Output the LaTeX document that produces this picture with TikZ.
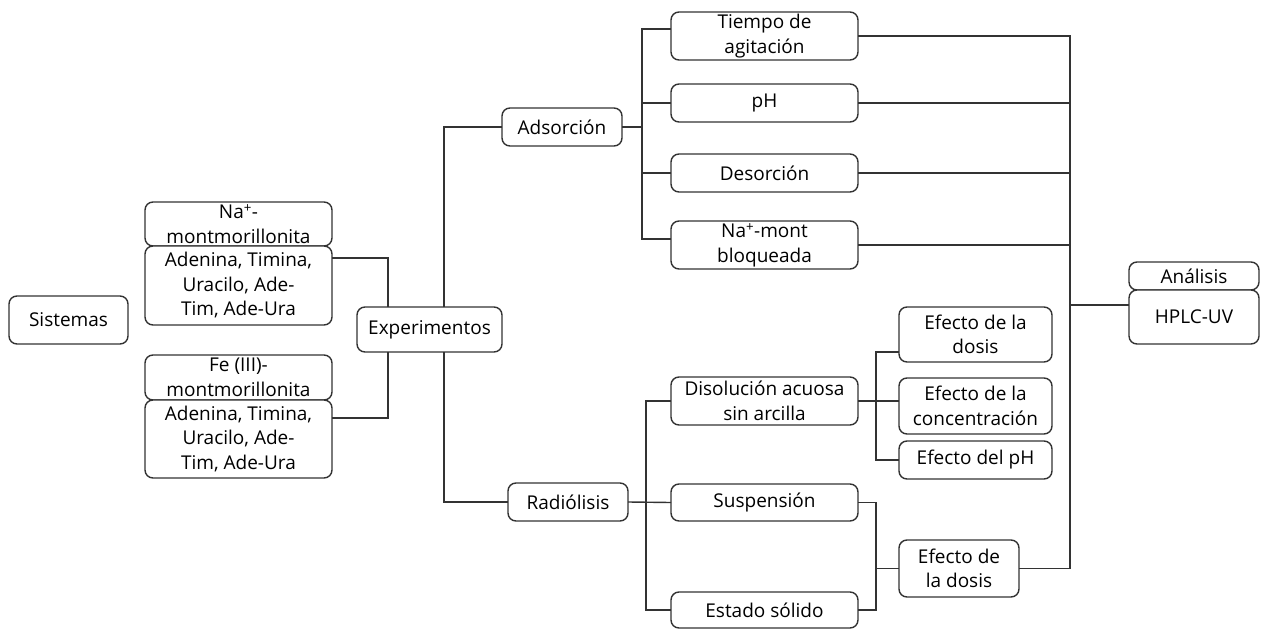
\documentclass[tikz,border=0pt]{standalone}
\usepackage{fontspec}
\setmainfont{Open Sans}
\usetikzlibrary{positioning}

\begin{document}
\begin{tikzpicture}[
  x=1pt, y=-1pt,
  every node/.style = {font=\fontsize{19}{24.5}\selectfont},
  block/.style = {draw=black!80, line width=1.4pt, rounded corners=8pt, fill=white, align=center, inner sep=0pt, outer sep=0pt, minimum height=38pt},
  wideblock/.style = {block, minimum width=187pt},
  effblock/.style = {block, minimum width=153pt},
  link/.style = {line width=1.4pt, draw=black!80}
]
  \useasboundingbox (0,0) rectangle (1261,629);

  % Sistemas
  \node[block, minimum width=119pt, minimum height=48pt] (sistemas) at (68.5,320) {Sistemas};

  % Clay systems
  \node[wideblock, minimum height=44pt] (natop) at (238.5,224) {Na\textsuperscript{+}-\\montmorillonita};
  \node[wideblock, minimum height=79pt, below=0pt of natop] (nabot) {Adenina, Timina,\\Uracilo, Ade-\\Tim, Ade-Ura};
  \node[wideblock, minimum height=45pt] (fetop) at (238.5,377.5) {Fe (III)-\\montmorillonita};
  \node[wideblock, minimum height=78pt, below=0pt of fetop] (febot) {Adenina, Timina,\\Uracilo, Ade-\\Tim, Ade-Ura};

  % Experimentos
  \node[block, minimum width=145pt, minimum height=45pt] (exp) at (429.5,329.5) {Experimentos};

  % Adsorcion branch
  \node[block, minimum width=120pt] (ads) at (562,127) {Adsorción};
  \node[wideblock, minimum height=48pt] (tiempo) at (764.5,36) {Tiempo de\\agitación};
  \node[wideblock] (ph) at (764.5,103) {pH};
  \node[wideblock] (des) at (764.5,173) {Desorción};
  \node[wideblock, minimum height=48pt] (namont) at (764.5,245) {Na\textsuperscript{+}-mont\\bloqueada};

  % Radiolisis branch
  \node[block, minimum width=120pt] (rad) at (568,502) {Radiólisis};
  \node[wideblock, minimum height=48pt] (disol) at (764.5,401) {Disolución acuosa\\sin arcilla};
  \node[wideblock, minimum height=37pt] (susp) at (764.5,502.5) {Suspensión};
  \node[wideblock, minimum height=36pt] (estado) at (764.5,610) {Estado sólido};

  % Effects
  \node[effblock, minimum height=55pt] (ef1) at (975.5,334.5) {Efecto de la\\dosis};
  \node[effblock, minimum height=56pt] (ef2) at (975.5,406) {Efecto de la\\concentración};
  \node[effblock] (ef3) at (975.5,460) {Efecto del pH};
  \node[block, minimum width=120pt, minimum height=57pt] (ef4) at (959,568.5) {Efecto de\\la dosis};

  % Analisis
  \node[block, minimum width=130pt, minimum height=28pt] (anatop) at (1194,276) {Análisis};
  \node[block, minimum width=130pt, minimum height=54pt, below=0pt of anatop] (anabot) {HPLC-UV};

  % Bus lines
  \coordinate (busS) at (388,0);
  \coordinate (busE) at (444,0);
  \coordinate (busA) at (642,0);
  \coordinate (busR) at (646,0);
  \coordinate (busD) at (876,0);
  \coordinate (busZ) at (1070,0);

  % Systems -> experimentos
  \draw[link] ([yshift=-12pt]nabot.north east) -| (busS |- exp.north);
  \draw[link] ([yshift=-18pt]febot.north east) -| (busS |- exp.south);

  % Experimentos -> adsorcion / radiolisis
  \draw[link] (busE |- exp.north) |- (ads.west);
  \draw[link] (busE |- exp.south) |- (rad.west);

  % Adsorcion -> parameters
  \coordinate (tiempoin) at ([yshift=7pt]tiempo.west);
  \coordinate (namontin) at ([yshift=6pt]namont.west);
  \draw[link] (ads.east) -- (busA |- ads.east);
  \draw[link] (tiempoin) -| (busA |- ads.east);
  \draw[link] (namontin) -| (busA |- ads.east);
  \draw[link] (ph.west) -- (busA |- ph.west);
  \draw[link] (des.west) -- (busA |- des.west);

  % Radiolisis -> media
  \draw[link] (rad.east) -- (susp.west);
  \draw[link] (disol.west) -| (busR |- estado.west) -- (estado.west);

  % Disolucion -> effects
  \coordinate (ef1in) at ([yshift=10pt]ef1.south west);
  \draw[link] (disol.east) -- (disol.east -| ef2.west);
  \draw[link] (ef1in) -| (busD |- ef3.west) -- (ef3.west);

  % Suspension / solido -> dose
  \draw[link] (susp.east) -| (busD |- estado.east) -- (estado.east);
  \draw[link] (busD |- ef4.west) -- (ef4.west);

  % Everything -> analisis
  \coordinate (anain) at ([yshift=12pt]anabot.west);
  \draw[link] (tiempo.east) -| (busZ |- ef4.east) -- (ef4.east);
  \draw[link] (ph.east) -- (busZ |- ph.east);
  \draw[link] (des.east) -- (busZ |- des.east);
  \draw[link] (namont.east) -- (busZ |- namont.east);
  \draw[link] (busZ |- anain) -- (anain);

\end{tikzpicture}
\end{document}
